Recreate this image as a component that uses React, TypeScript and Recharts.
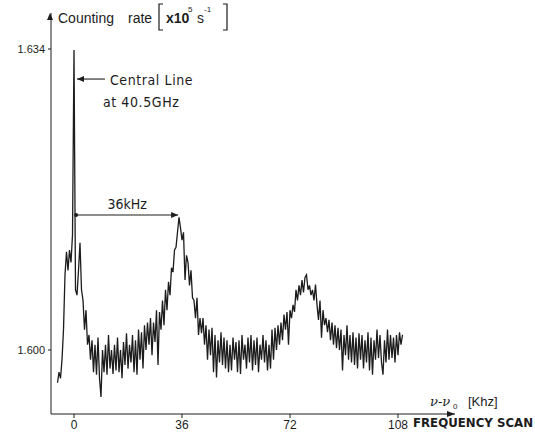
import { LineChart, Line, XAxis, YAxis, ReferenceLine } from 'recharts';

// frequency scan, nu - nu0 in kHz, sampled every 0.5 kHz
const scanStart = -5.5;
const scanStep = 0.5;

// counting rate [x10^5 s^-1]
const countingRate = [
  1.5963, 1.5975, 1.5968, 1.5989, 1.6023, 1.6085, 1.6111, 1.6090, 1.6113, 1.6099,
  1.6130, 1.6339, 1.6068, 1.6062, 1.6090, 1.6121, 1.6068, 1.6056, 1.6023, 1.6045,
  1.6006, 1.6017, 1.5989, 1.6011, 1.5975, 1.6006, 1.5972, 1.6014, 1.5968, 1.5947,
  1.6000, 1.5975, 1.6006, 1.5972, 1.6017, 1.5979, 1.6000, 1.5973, 1.6006, 1.5977,
  1.6014, 1.5975, 1.6000, 1.5968, 1.6009, 1.5983, 1.6019, 1.5979, 1.6006, 1.5986,
  1.6017, 1.5975, 1.6011, 1.5972, 1.6023, 1.5989, 1.6020, 1.5979, 1.6028, 1.6000,
  1.6031, 1.6006, 1.6036, 1.5994, 1.6031, 1.6009, 1.6045, 1.5983, 1.6043, 1.6023,
  1.6056, 1.6028, 1.6068, 1.6045, 1.6077, 1.6062, 1.6093, 1.6088, 1.6113, 1.6116,
  1.6133, 1.6150, 1.6138, 1.6124, 1.6133, 1.6079, 1.6107, 1.6099, 1.6073, 1.6090,
  1.6059, 1.6056, 1.6036, 1.6059, 1.6017, 1.6036, 1.6019, 1.6036, 1.6006, 1.6028,
  1.5989, 1.6023, 1.5994, 1.6025, 1.5975, 1.6017, 1.5969, 1.6011, 1.5986, 1.6020,
  1.5983, 1.6014, 1.5979, 1.6011, 1.5975, 1.6006, 1.5977, 1.6014, 1.5989, 1.6009,
  1.5975, 1.6011, 1.5973, 1.6017, 1.5989, 1.6006, 1.5979, 1.6014, 1.5986, 1.6017,
  1.5977, 1.6011, 1.5983, 1.6014, 1.5975, 1.6006, 1.5989, 1.6017, 1.5986, 1.6011,
  1.5977, 1.6006, 1.5979, 1.6023, 1.5989, 1.6025, 1.6000, 1.6028, 1.6006, 1.6031,
  1.6011, 1.6040, 1.6023, 1.6043, 1.6006, 1.6045, 1.6036, 1.6051, 1.6043, 1.6068,
  1.6056, 1.6073, 1.6062, 1.6079, 1.6065, 1.6082, 1.6085, 1.6068, 1.6073, 1.6062,
  1.6068, 1.6056, 1.6074, 1.6051, 1.6034, 1.6056, 1.6014, 1.6045, 1.6028, 1.6036,
  1.6020, 1.6034, 1.6011, 1.6031, 1.6006, 1.6028, 1.6002, 1.6025, 1.6000, 1.6023,
  1.5977, 1.6017, 1.5994, 1.6028, 1.5989, 1.6017, 1.5986, 1.6020, 1.5983, 1.6014,
  1.5979, 1.6019, 1.5989, 1.6017, 1.5979, 1.6011, 1.5986, 1.6020, 1.5977, 1.6014,
  1.5972, 1.6011, 1.5989, 1.6023, 1.5991, 1.6017, 1.5986, 1.5972, 1.6011, 1.5986,
  1.6023, 1.5989, 1.6017, 1.5991, 1.6014, 1.5986, 1.6017, 1.5994, 1.6020, 1.6006, 1.6017,
];

const freqTicks = [0, 36, 72, 108];
const rateTicks = [1.6, 1.634];

// annotation positions (kHz / counting rate)
const spanFrom = 0.7;
const spanTo = 34.7;
const spanLevel = 1.61525;
const centralFrom = 10.3;
const centralTo = 1.0;
const centralLevel = 1.63061;

const data = countingRate.map((rate, i) => ({ freq: scanStart + i * scanStep, rate }));

const ink = '#1c1c1c';
const sans = 'Liberation Sans, Arial, sans-serif';
const narrow = 'DejaVu Sans Condensed, Liberation Sans Narrow, sans-serif';

function SpanArrow(props: any) {
  const { x1, y1, x2, y2 } = props;
  return (
    <g>
      <line x1={x1} y1={y1} x2={x2} y2={y2} stroke={ink} strokeWidth={1.1} />
      <circle cx={x1} cy={y1} r={2} fill={ink} />
      <path d={`M${x2 - 7},${y2 - 3} L${x2},${y2} L${x2 - 7},${y2 + 3} Z`} fill={ink} />
      <text x={(x1 + x2) / 2} y={y1 - 6} textAnchor="middle" fontFamily={narrow} fontSize={14} fill={ink}>
        36kHz
      </text>
    </g>
  );
}

function CentralArrow(props: any) {
  const { x1, y1, x2, y2 } = props;
  return (
    <g>
      <line x1={x1} y1={y1} x2={x2} y2={y2} stroke={ink} strokeWidth={1.1} />
      <path d={`M${x2 + 7},${y2 - 3} L${x2},${y2} L${x2 + 7},${y2 + 3} Z`} fill={ink} />
      <text x={x1 + 5} y={y1 + 6} fontFamily={narrow} fontSize={14} fill={ink} letterSpacing={0.6}>
        Central Line
      </text>
      <text x={x1 - 2} y={y1 + 28} fontFamily={narrow} fontSize={14} fill={ink} letterSpacing={0.6}>
        at 40.5GHz
      </text>
    </g>
  );
}

function RateTitle(props: any) {
  const { x, y } = props.viewBox;
  return (
    <g fill={ink}>
      <path d={`M${x - 3},${y + 7} L${x},${y} L${x + 3},${y + 7} Z`} />
      <text x={x + 8} y={y + 10} fontFamily={sans} fontSize={14}>Counting</text>
      <text x={x + 78} y={y + 10} fontFamily={sans} fontSize={14}>rate</text>
      <path d={`M${x + 113},${y - 9} L${x + 109},${y - 9} L${x + 109},${y + 17} L${x + 113},${y + 17}`} fill="none" stroke={ink} strokeWidth={1.2} />
      <text x={x + 116} y={y + 10} fontFamily={sans} fontSize={14} fontWeight="600">x10</text>
      <text x={x + 138} y={y - 1} fontFamily={sans} fontSize={8}>5</text>
      <text x={x + 147} y={y + 10} fontFamily={sans} fontSize={14}>s</text>
      <text x={x + 154} y={y - 1} fontFamily={sans} fontSize={8}>-1</text>
      <path d={`M${x + 173},${y - 9} L${x + 177},${y - 9} L${x + 177},${y + 17} L${x + 173},${y + 17}`} fill="none" stroke={ink} strokeWidth={1.2} />
    </g>
  );
}

function FreqTitle(props: any) {
  const { x, y, width } = props.viewBox;
  const end = x + width;
  return (
    <g fill={ink}>
      <path d={`M${end - 8},${y - 3} L${end},${y} L${end - 8},${y + 3} Z`} />
      <text x={end - 25} y={y - 8} fontFamily="DejaVu Serif, serif" fontStyle="italic" fontSize={13}>
        ν-ν
      </text>
      <text x={end - 2} y={y - 5} fontFamily={sans} fontSize={8}>0</text>
      <text x={end + 13} y={y - 8} fontFamily={sans} fontSize={13}>[Khz]</text>
      <text x={end - 42} y={y + 13} fontFamily={narrow} fontWeight="bold" fontSize={12.5} textLength={120} lengthAdjust="spacingAndGlyphs">
        FREQUENCY SCAN
      </text>
    </g>
  );
}

export default function App() {
  return (
    <div style={{ position: 'absolute', left: 0, top: 0, width: 535, height: 440, background: '#fff' }}>
      <LineChart width={535} height={440} data={data} margin={{ top: 13, right: 80, bottom: 25, left: 50 }}>
        <XAxis
          dataKey="freq"
          type="number"
          domain={[-7.667, 127]}
          ticks={freqTicks}
          allowDataOverflow
          height={1}
          stroke={ink}
          tickSize={4}
          tickMargin={2}
          tick={{ fontSize: 12, fontFamily: sans, fill: ink }}
          label={{ content: (p: any) => <FreqTitle {...p} /> }}
        />
        <YAxis
          type="number"
          domain={[1.59277, 1.63807]}
          ticks={rateTicks}
          allowDataOverflow
          width={1}
          stroke={ink}
          tickSize={3}
          tickMargin={3}
          tickFormatter={(v: number) => v.toFixed(3)}
          tick={{ fontSize: 11, fontFamily: sans, fill: ink }}
          label={{ content: (p: any) => <RateTitle {...p} /> }}
        />
        <Line
          type="linear"
          dataKey="rate"
          stroke={ink}
          strokeWidth={1.3}
          dot={false}
          isAnimationActive={false}
        />
        <ReferenceLine
          segment={[{ x: spanFrom, y: spanLevel }, { x: spanTo, y: spanLevel }]}
          shape={(p: any) => <SpanArrow {...p} />}
        />
        <ReferenceLine
          segment={[{ x: centralFrom, y: centralLevel }, { x: centralTo, y: centralLevel }]}
          shape={(p: any) => <CentralArrow {...p} />}
        />
      </LineChart>
    </div>
  );
}
